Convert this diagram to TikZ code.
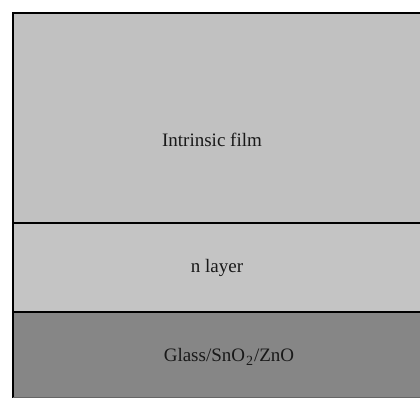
\documentclass[tikz,border=0pt]{standalone}
\usepackage{fontspec}
\setmainfont{Liberation Serif}
\begin{document}
\begin{tikzpicture}[x=1pt,y=-1pt,
  lbl/.style={font=\fontsize{19}{22}\selectfont, text=black!90, inner sep=0pt},
  edge/.style={draw=black, line width=2pt}]
\useasboundingbox (0,0) rectangle (420,398);
\fill[white] (0,0) rectangle (420,398);
\fill[fill={rgb,255:red,193;green,193;blue,193}] (13,13) rectangle (420,223);
\fill[fill={rgb,255:red,196;green,196;blue,196}] (13,223) rectangle (420,312);
\fill[fill={rgb,255:red,134;green,134;blue,134}] (13,312) rectangle (420,398);
\coordinate (tl) at (13,13);
\coordinate (tr) at (420,13);
\coordinate (bl) at (13,398);
\coordinate (m1l) at (13,223);
\coordinate (m1r) at (420,223);
\coordinate (m2l) at (13,312);
\coordinate (m2r) at (420,312);
\draw[edge] (tr) -- (tl) -- (bl);
\draw[edge] (m1l) -- (m1r);
\draw[edge] (m2l) -- (m2r);
\draw[black!60, line width=1pt] (13,397.5) -- (420,397.5);
\node[lbl] (t1) at (212,140) {Intrinsic film};
\node[lbl] (t2) at (217,268) {n layer};
\node[lbl] (t3) at (229,357) {Glass/SnO\kern1pt\raisebox{-0.45ex}{\fontsize{14}{16}\selectfont 2}\kern1pt/ZnO};
\end{tikzpicture}
\end{document}
